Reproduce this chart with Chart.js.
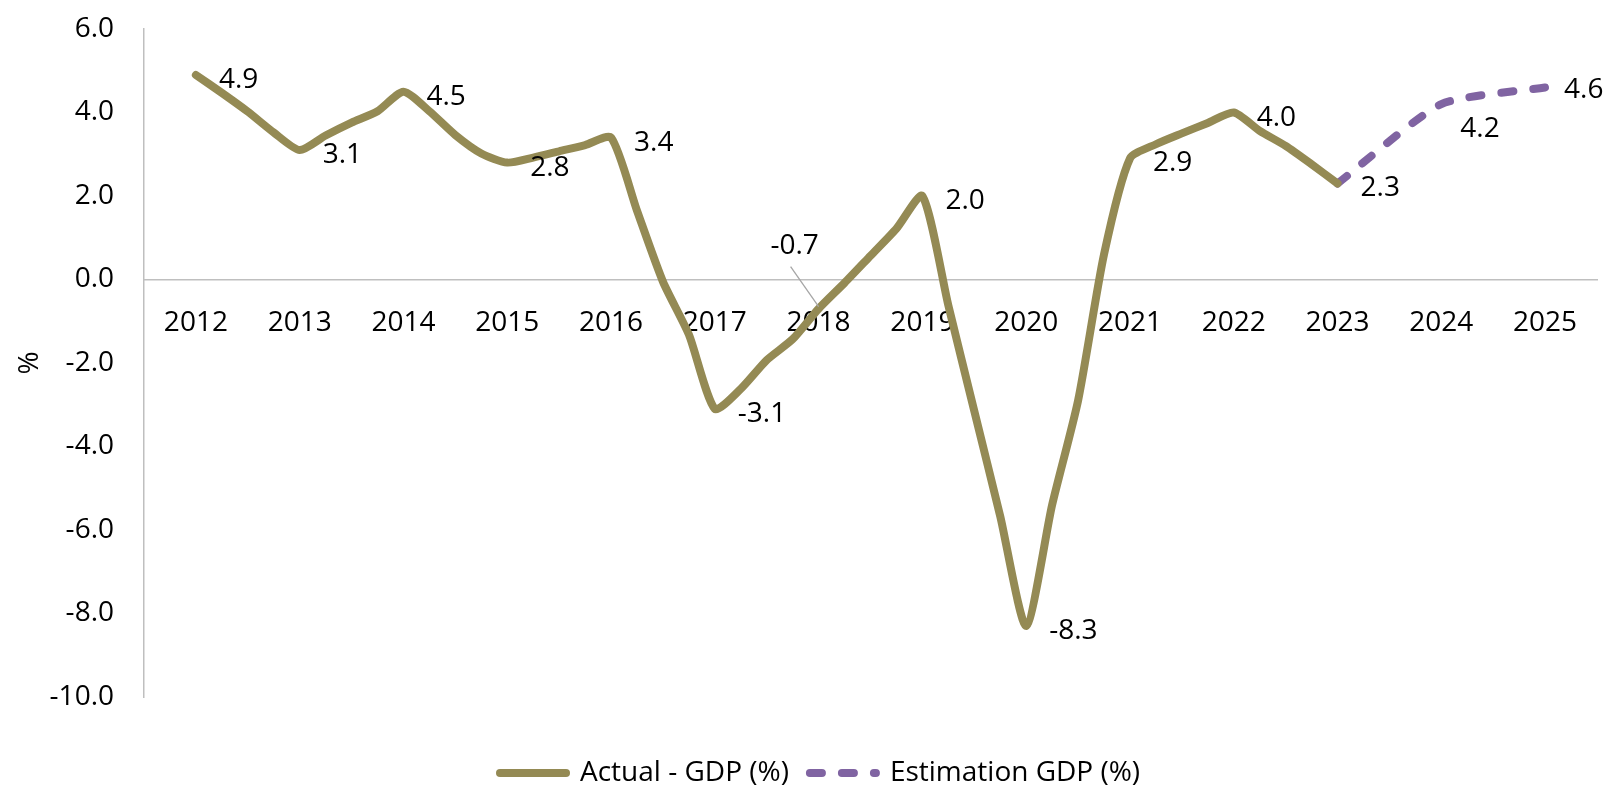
<!DOCTYPE html>
<html>
<head>
<meta charset="utf-8">
<title>GDP growth</title>
<script src="https://cdn.jsdelivr.net/npm/chart.js@4.4.1/dist/chart.umd.min.js"></script>
<style>
    html, body { margin: 0; padding: 0; background: #fff; }
    #wrap { width: 1614px; height: 790px; }
</style>
</head>
<body>
<div id="wrap"><canvas id="gdpChart"></canvas></div>
<script>
// x axis years and y axis steps
var years = [2012, 2013, 2014, 2015, 2016, 2017, 2018, 2019, 2020, 2021, 2022, 2023, 2024, 2025];
var yTicks = [6, 4, 2, 0, -2, -4, -6, -8, -10];

// actual GDP growth: yearly values (labelled) and the quarters in between
var actualYears = years.slice(0, 12);
var actualAnnual = [4.9, 3.1, 4.5, 2.8, 3.4, -3.1, -0.7, 2.0, -8.3, 2.9, 4.0, 2.3];
var actualQuarters = [
    [4.47, 4.02, 3.52],
    [3.45, 3.76, 4.03],
    [4.03, 3.46, 3.02],
    [2.92, 3.07, 3.22],
    [1.65, -0.05, -1.32],
    [-2.62, -1.93, -1.43],
    [-0.08, 0.57, 1.22],
    [-0.62, -3.15, -5.67],
    [-5.4, -2.9, 0.6],
    [3.24, 3.50, 3.75],
    [3.56, 3.20, 2.76]
];

// estimate from 2023 on
var estimateYears = [2023, 2024, 2025];
var estimateValues = [2.3, 4.2, 4.6];

var actualPoints = [];
actualYears.forEach(function (yr, i) {
    actualPoints.push({ x: yr, y: actualAnnual[i] });
    (actualQuarters[i] || []).forEach(function (v, q) {
        actualPoints.push({ x: yr + (q + 1) / 4, y: v });
    });
});
var estimatePoints = estimateYears.map(function (yr, i) {
    return { x: yr, y: estimateValues[i] };
});

Chart.defaults.font.family = "'Open Sans', sans-serif";
Chart.defaults.font.size = 28;
Chart.defaults.color = '#000';

// value labels next to the yearly points
var valueLabels = {
    id: 'valueLabels',
    afterDatasetsDraw: function (chart, args, opts) {
        var ctx = chart.ctx;
        ctx.save();
        ctx.font = "28px 'Open Sans'";
        ctx.fillStyle = '#000';
        ctx.textBaseline = 'alphabetic';
        chart.data.datasets.forEach(function (ds, di) {
            var meta = chart.getDatasetMeta(di);
            meta.data.forEach(function (pt, j) {
                var raw = ds.data[j];
                if (!Number.isInteger(raw.x) || raw.x < ds.labelFrom) return;
                var o = Object.assign({ dx: 23, dy: 3, align: 'left' }, opts.nudge[raw.x]);
                var tx = pt.x + o.dx;
                var ty = pt.y + o.dy;
                if (o.leader) {
                    ctx.beginPath();
                    ctx.strokeStyle = '#a6a6a6';
                    ctx.lineWidth = 1.3;
                    ctx.moveTo(tx + o.leader[0], ty + o.leader[1]);
                    ctx.lineTo(pt.x, pt.y - 2);
                    ctx.stroke();
                }
                ctx.textAlign = o.align;
                ctx.fillText(raw.y.toFixed(1), tx, ty + 10);
            });
        });
        ctx.restore();
    }
};

// put the legend row where it belongs under the plot
var legendPlacement = {
    id: 'legendPlacement',
    afterLayout: function (chart, args, opts) {
        var lg = chart.legend;
        var h = lg.bottom - lg.top;
        lg.left = opts.left;
        lg.right = chart.width;
        lg.top = opts.top;
        lg.bottom = opts.top + h;
    }
};

var ctx = document.getElementById('gdpChart').getContext('2d');
var gdpChart = new Chart(ctx, {
    type: 'line',
    data: {
        datasets: [
            {
                label: 'Actual - GDP (%)',
                data: actualPoints,
                borderColor: '#948A54',
                backgroundColor: '#948A54',
                borderWidth: 8,
                borderCapStyle: 'round',
                borderJoinStyle: 'round',
                pointRadius: 0,
                tension: 0.22,
                labelFrom: 2012
            },
            {
                label: 'Estimation GDP (%)',
                data: estimatePoints,
                borderColor: '#8064A2',
                backgroundColor: '#8064A2',
                borderWidth: 8,
                borderDash: [12, 20],
                borderCapStyle: 'round',
                borderJoinStyle: 'round',
                pointRadius: 0,
                tension: 0.2,
                labelFrom: 2024
            }
        ]
    },
    options: {
        responsive: true,
        maintainAspectRatio: false,
        animation: false,
        layout: { padding: { left: 7, right: 17, top: 29, bottom: 34 } },
        plugins: {
            legend: {
                position: 'bottom',
                align: 'start',
                labels: {
                    usePointStyle: true,
                    pointStyle: 'line',
                    pointStyleWidth: 66,
                    boxHeight: 28,
                    padding: 21,
                    color: '#000',
                    font: { size: 28 },
                    generateLabels: function (chart) {
                        var items = Chart.defaults.plugins.legend.labels.generateLabels(chart);
                        items.forEach(function (item) {
                            var ds = chart.data.datasets[item.datasetIndex];
                            item.lineDash = ds.borderDash || [];
                            item.lineWidth = ds.borderWidth;
                            item.lineCap = 'round';
                            item.strokeStyle = ds.borderColor;
                        });
                        return items;
                    }
                }
            },
            tooltip: { enabled: false },
            valueLabels: {
                nudge: {
                    2018: { dx: -24, dy: -65, align: 'center', leader: [-4, 23] },
                    2024: { dx: 19, dy: 23 },
                    2025: { dx: 19, dy: 1 }
                }
            },
            legendPlacement: { left: 479, top: 738 }
        },
        scales: {
            x: {
                type: 'linear',
                min: 2011.5,
                max: 2025.5,
                position: { y: 0 },
                afterBuildTicks: function (s) {
                    s.ticks = years.map(function (y) { return { value: y }; });
                },
                afterFit: function (s) { s.height = 24; },
                grid: { display: false, drawTicks: false },
                border: { display: true, color: '#bfbfbf', width: 1.5 },
                ticks: {
                    padding: 27,
                    autoSkip: false,
                    maxRotation: 0,
                    callback: function (v) { return String(v); }
                }
            },
            y: {
                min: -10,
                max: 6,
                afterBuildTicks: function (s) {
                    s.ticks = yTicks.map(function (v) { return { value: v }; });
                },
                afterFit: function (s) { s.width = 137; },
                // tick marks stay hidden; their length only spaces the labels off the axis
                grid: { display: false, drawTicks: true, tickLength: 30 },
                border: { display: true, color: '#bfbfbf', width: 1.5 },
                ticks: {
                    padding: 0,
                    callback: function (v) { return v.toFixed(1); }
                },
                title: { display: true, text: '%', padding: { top: 6, bottom: 4 } }
            }
        }
    },
    plugins: [valueLabels, legendPlacement]
});
</script>
</body>
</html>
